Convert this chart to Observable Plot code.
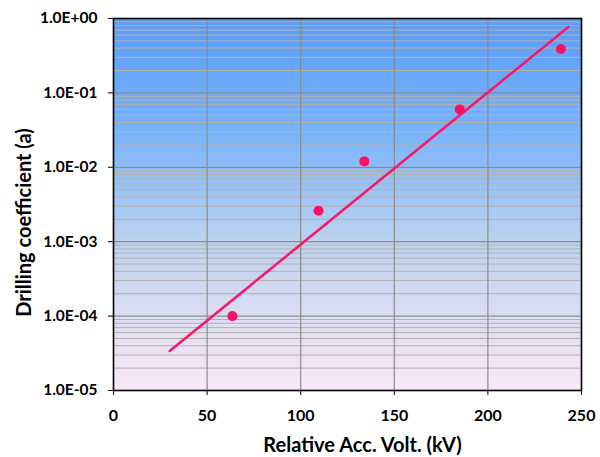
<!DOCTYPE html>
<html>
<head>
<meta charset="utf-8">
<script src="https://cdn.jsdelivr.net/npm/d3@7"></script>
<script src="https://cdn.jsdelivr.net/npm/@observablehq/plot@0.6"></script>
<style>
  html, body { margin: 0; padding: 0; background: #fff; }
  #chart svg { display: block; }
</style>
</head>
<body>
<div id="chart"></div>
<script>
// Measured points
const voltage = [63.5, 109.5, 134, 185, 239];
const coefficient = [1.0e-4, 2.6e-3, 1.2e-2, 6.0e-2, 0.39];

// Fitted exponential trend line (endpoints as drawn)
const trendVoltage = [30, 243];
const trendCoefficient = [3.4e-5, 0.77];

// Axes
const xTicks = [0, 50, 100, 150, 200, 250];
const yTicks = [1e-5, 1e-4, 1e-3, 1e-2, 1e-1, 1];
const yTickLabels = ["1.0E-05", "1.0E-04", "1.0E-03", "1.0E-02", "1.0E-01", "1.0E+00"];
const minorMultipliers = [2, 3, 4, 5, 6, 7, 8, 9];

const points = voltage.map((v, i) => ({v, c: coefficient[i]}));
const trend = trendVoltage.map((v, i) => ({v, c: trendCoefficient[i]}));
const minorTicks = yTicks.slice(0, -1).flatMap(d => minorMultipliers.map(m => m * d));
const labelOf = new Map(yTicks.map((t, i) => [t, yTickLabels[i]]));

const font = "Lato, 'Open Sans', sans-serif";

const chart = Plot.plot({
  width: 600,
  height: 457,
  marginLeft: 113,
  marginRight: 19,
  marginTop: 18,
  marginBottom: 67,
  style: {fontFamily: font, fontSize: "15px", fontWeight: "bold", color: "#000", background: "#fff"},
  x: {domain: [0, 250], label: null},
  y: {type: "log", domain: [1e-5, 1], label: null},
  marks: [
    Plot.frame({fill: "url(#bgGrad)", stroke: null}),
    Plot.ruleY(minorTicks, {stroke: "#b4b2ae", strokeWidth: 1}),
    Plot.ruleY(yTicks.slice(1, -1), {stroke: "#8c8c8c", strokeWidth: 1.2}),
    Plot.ruleX(xTicks.slice(1, -1), {stroke: "#8c8c8c", strokeWidth: 1.2}),
    Plot.line(trend, {x: "v", y: "c", stroke: "#ff1466", strokeWidth: 2.5}),
    Plot.dot(points, {x: "v", y: "c", r: 5, fill: "#ff0f64", stroke: null}),
    Plot.frame({stroke: "#000", strokeWidth: 1.6}),
    Plot.axisX({ticks: xTicks, tickSize: 5, tickPadding: 14, fontSize: 16, fontWeight: "bold", label: null, stroke: "#000"}),
    Plot.axisY({ticks: yTicks, tickFormat: d => labelOf.get(d), tickSize: 5, tickPadding: 11, fontSize: 15.5, fontWeight: "bold", label: null, stroke: "#000"}),
    Plot.text(["Relative Acc. Volt. (kV)"], {frameAnchor: "bottom", textAnchor: "middle", dx: 15, dy: 61, fontSize: 20, fontWeight: "bold", fill: "#000"}),
    Plot.text(["Drilling coefficient (a)"], {frameAnchor: "left", textAnchor: "middle", dx: -89, dy: 18, rotate: -90, fontSize: 20, fontWeight: "bold", fill: "#000"})
  ]
});

// gradient definition for the plot background
const svg = d3.select(chart);
const defs = svg.insert("defs", ":first-child");
const grad = defs.append("linearGradient").attr("id", "bgGrad")
  .attr("x1", 0).attr("y1", 0).attr("x2", 0).attr("y2", 1);
grad.append("stop").attr("offset", "0%").attr("stop-color", "#5a9bf8");
grad.append("stop").attr("offset", "30%").attr("stop-color", "#77b3fb");
grad.append("stop").attr("offset", "60%").attr("stop-color", "#bcd2ee");
grad.append("stop").attr("offset", "100%").attr("stop-color", "#fae8f6");

document.getElementById("chart").appendChild(chart);
</script>
</body>
</html>
